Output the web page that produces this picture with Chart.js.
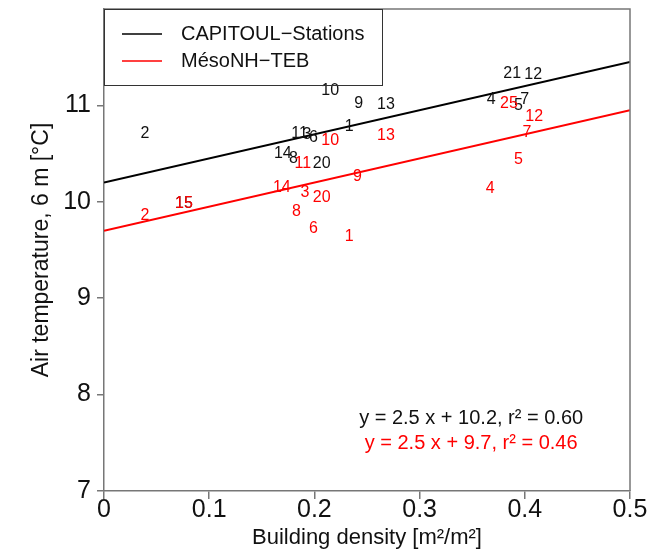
<!DOCTYPE html>
<html>
<head>
<meta charset="utf-8">
<script src="https://cdn.jsdelivr.net/npm/chart.js@4/dist/chart.umd.min.js"></script>
<style>
  html, body { margin: 0; padding: 0; background: #fff; }
  #chart-1 { display: block; }
</style>
</head>
<body>
<canvas id="chart-1" width="656" height="551"></canvas>
<script>
// -------------------------- data ------------------------------------------

// station numbers, building density [m²/m²], air temperature at 6 m [°C]
const capitoulIds = [1, 2, 3, 4, 5, 6, 7, 8, 9, 10, 11, 12, 13, 14, 15, 20, 21];
const capitoulX   = [0.233, 0.039, 0.193, 0.368, 0.394, 0.199, 0.400, 0.180, 0.242, 0.215, 0.186, 0.408, 0.268, 0.170, 0.076, 0.207, 0.388];
const capitoulY   = [10.78, 10.71, 10.70, 11.06, 11.00, 10.67, 11.06, 10.45, 11.02, 11.15, 10.71, 11.32, 11.01, 10.50, 9.98, 10.40, 11.33];

const mesonhIds = [1, 2, 3, 4, 5, 6, 7, 8, 9, 10, 11, 12, 13, 14, 15, 20, 25];
const mesonhX   = [0.233, 0.039, 0.191, 0.367, 0.394, 0.199, 0.402, 0.183, 0.241, 0.215, 0.189, 0.409, 0.268, 0.169, 0.076, 0.207, 0.385];
const mesonhY   = [9.64, 9.86, 10.10, 10.14, 10.44, 9.72, 10.72, 9.90, 10.26, 10.64, 10.40, 10.88, 10.69, 10.15, 9.98, 10.04, 11.02];

// linear fits: [slope, intercept, r²]
const capitoulFit = [2.5, 10.2, 0.60];
const mesonhFit   = [2.5, 9.7, 0.46];

const xTicks = [0, 0.1, 0.2, 0.3, 0.4, 0.5];
const yTicks = [7, 8, 9, 10, 11];

const BLACK = '#000000';
const RED = '#ff0000';
const AXIS = '#777777';
const FONT = "'Liberation Sans', Arial, sans-serif";

function points(xs, ys) {
  return xs.map((x, i) => ({ x: x, y: ys[i] }));
}

function fitLine(fit) {
  return [0, 0.5].map(x => ({ x: x, y: fit[0] * x + fit[1] }));
}

// -------------------------- plugins ---------------------------------------

// station numbers written at each point
const numberLabels = {
  id: 'numberLabels',
  afterDatasetsDraw(chart) {
    const ctx = chart.ctx;
    ctx.save();
    ctx.font = '16px ' + FONT;
    ctx.textAlign = 'center';
    ctx.textBaseline = 'middle';
    chart.data.datasets.forEach((ds, i) => {
      if (!ds.ids) return;
      ctx.fillStyle = ds.textColor;
      chart.getDatasetMeta(i).data.forEach((pt, j) => {
        ctx.fillText(String(ds.ids[j]), pt.x, pt.y);
      });
    });
    ctx.restore();
  }
};

// box frame, legend and fit equations
const frame = {
  id: 'frame',
  afterDraw(chart) {
    const ctx = chart.ctx;
    const a = chart.chartArea;
    const xs = chart.scales.x, ys = chart.scales.y;
    ctx.save();

    ctx.strokeStyle = AXIS;
    ctx.lineWidth = 1.5;
    ctx.beginPath();
    ctx.moveTo(a.left, a.top);
    ctx.lineTo(a.right, a.top);
    ctx.lineTo(a.right, a.bottom);
    ctx.stroke();

    // legend
    ctx.strokeStyle = '#333';
    ctx.lineWidth = 1;
    ctx.strokeRect(a.left + 0.5, a.top + 0.5, 278, 76);
    const items = [['CAPITOUL\u2212Stations', BLACK], ['M\u00e9soNH\u2212TEB', RED]];
    ctx.font = '20px ' + FONT;
    ctx.textBaseline = 'middle';
    ctx.textAlign = 'left';
    items.forEach((it, k) => {
      const y = a.top + 25 + k * 27;
      ctx.strokeStyle = it[1];
      ctx.lineWidth = 1.5;
      ctx.beginPath();
      ctx.moveTo(a.left + 18, y);
      ctx.lineTo(a.left + 58, y);
      ctx.stroke();
      ctx.fillStyle = '#111';
      ctx.fillText(it[0], a.left + 77, y);
    });

    // equations
    ctx.textAlign = 'center';
    const eq = f => 'y = ' + f[0].toFixed(1) + ' x + ' + f[1].toFixed(1) + ', r\u00b2 = ' + f[2].toFixed(2);
    const cx = xs.getPixelForValue(0.349);
    ctx.fillStyle = '#111';
    ctx.fillText(eq(capitoulFit), cx, ys.getPixelForValue(7.75));
    ctx.fillStyle = RED;
    ctx.fillText(eq(mesonhFit), cx, ys.getPixelForValue(7.49));

    ctx.restore();
  }
};

// -------------------------- chart -----------------------------------------

const ctx = document.getElementById('chart-1');
new Chart(ctx, {
  type: 'scatter',
  data: {
    datasets: [
      {
        label: 'CAPITOUL-Stations',
        data: points(capitoulX, capitoulY),
        ids: capitoulIds,
        textColor: '#111',
        pointRadius: 0
      },
      {
        label: 'MésoNH-TEB',
        data: points(mesonhX, mesonhY),
        ids: mesonhIds,
        textColor: RED,
        pointRadius: 0
      },
      {
        type: 'line',
        data: fitLine(capitoulFit),
        borderColor: BLACK,
        borderWidth: 2,
        pointRadius: 0
      },
      {
        type: 'line',
        data: fitLine(mesonhFit),
        borderColor: RED,
        borderWidth: 2,
        pointRadius: 0
      }
    ]
  },
  options: {
    responsive: false,
    animation: false,
    layout: { padding: { top: 9, right: 26, left: 0, bottom: 0 } },
    plugins: { legend: { display: false }, tooltip: { enabled: false } },
    scales: {
      x: {
        type: 'linear',
        min: 0,
        max: 0.5,
        afterBuildTicks: s => { s.ticks = xTicks.map(v => ({ value: v })); },
        afterFit: s => { s.height = 60; s.paddingLeft = 0; s.paddingRight = 0; },
        ticks: {
          color: '#111',
          font: { family: FONT, size: 25 },
          padding: -4,
          maxRotation: 0,
          callback: v => String(v)
        },
        grid: { drawOnChartArea: false, tickLength: 8, color: AXIS, lineWidth: 1.5 },
        border: { color: AXIS, width: 1.5 },
        title: {
          display: true,
          text: 'Building density [m²/m²]',
          color: '#111',
          font: { family: FONT, size: 22 },
          padding: { top: 0, bottom: 0 }
        }
      },
      y: {
        min: 7,
        max: 12,
        afterBuildTicks: s => { s.ticks = yTicks.map(v => ({ value: v })); },
        afterFit: s => { s.width = 104; s.paddingTop = 0; s.paddingBottom = 0; },
        ticks: {
          color: '#111',
          font: { family: FONT, size: 25 },
          padding: 6
        },
        grid: { drawOnChartArea: false, tickLength: 7, color: AXIS, lineWidth: 1.5 },
        border: { color: AXIS, width: 1.5 },
        title: {
          display: true,
          text: 'Air temperature, 6 m [°C]',
          color: '#111',
          font: { family: FONT, size: 23 },
          padding: { top: 28, bottom: 0 }
        }
      }
    }
  },
  plugins: [numberLabels, frame]
});
</script>
</body>
</html>
